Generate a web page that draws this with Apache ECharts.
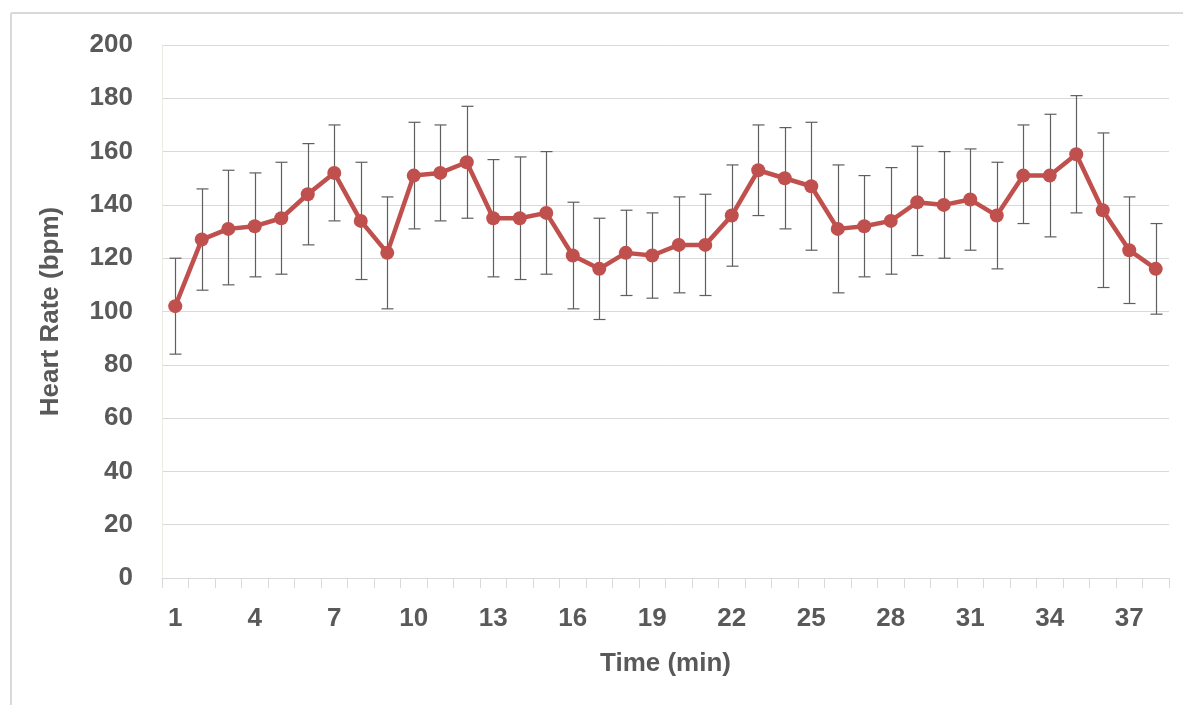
<!DOCTYPE html>
<html>
<head>
<meta charset="utf-8">
<script src="https://cdn.jsdelivr.net/npm/echarts@6/dist/echarts.min.js"></script>
<style>
html,body{margin:0;padding:0;background:#fff;}
#chart{width:1183px;height:705px;}
</style>
</head>
<body>
<div id="chart"></div>
<script>
var minutes = ['1','2','3','4','5','6','7','8','9','10','11','12','13','14','15','16','17','18','19','20','21','22','23','24','25','26','27','28','29','30','31','32','33','34','35','36','37','38'];
var heartRate = [102,127,131,132,135,144,152,134,122,151,152,156,135,135,137,121,116,122,121,125,125,136,153,150,147,131,132,134,141,140,142,136,151,151,159,138,123,116];
var errUpper = [120,146,153,152,156,163,170,156,143,171,170,177,157,158,160,141,135,138,137,143,144,155,170,169,171,155,151,154,162,160,161,156,170,174,181,167,143,133];
var errLower = [84,108,110,113,114,125,134,112,101,131,134,135,113,112,114,101,97,106,105,107,106,117,136,131,123,107,113,114,121,120,123,116,133,128,137,109,103,99];
var yTicks = [0,20,40,60,80,100,120,140,160,180,200];

var textColor = '#595959';
var lineColor = '#C0504D';
var gridColor = '#d9d9d9';
var font = '"Liberation Sans", Arial, sans-serif';

var errData = minutes.map(function (m, i) { return [i, errLower[i], errUpper[i]]; });

var chart = echarts.init(document.getElementById('chart'), null, {renderer: 'canvas'});
chart.setOption({
  animation: false,
  backgroundColor: '#ffffff',
  graphic: [
    {type: 'line', shape: {x1: 11, y1: 13, x2: 1183, y2: 13}, style: {stroke: '#d9d9d9', lineWidth: 2}, silent: true},
    {type: 'line', shape: {x1: 11, y1: 13, x2: 11, y2: 705}, style: {stroke: '#d9d9d9', lineWidth: 2}, silent: true}
  ],
  grid: {left: 162, right: 14, top: 45, bottom: 127, containLabel: false},
  xAxis: {
    type: 'category',
    data: minutes,
    boundaryGap: true,
    name: 'Time (min)',
    nameLocation: 'middle',
    nameGap: 73,
    nameTextStyle: {color: textColor, fontSize: 26, fontWeight: 'bold', fontFamily: font},
    axisLine: {show: true, lineStyle: {color: gridColor, width: 1}},
    axisTick: {show: true, interval: 0, length: 10, alignWithLabel: false, lineStyle: {color: gridColor}},
    axisLabel: {interval: 2, margin: 28, color: textColor, fontSize: 26, fontWeight: 'bold', fontFamily: font},
    splitLine: {show: false}
  },
  yAxis: {
    type: 'value',
    min: 0,
    max: 200,
    interval: 20,
    name: 'Heart Rate (bpm)',
    nameLocation: 'middle',
    nameGap: 98,
    nameRotate: 90,
    nameTextStyle: {color: textColor, fontSize: 26, fontWeight: 'bold', fontFamily: font},
    axisLine: {show: true, lineStyle: {color: '#ebebe4', width: 1}},
    axisTick: {show: false},
    axisLabel: {
      margin: 29, color: textColor, fontSize: 26, fontWeight: 'bold', fontFamily: font,
      formatter: function (v) { return yTicks.indexOf(v) >= 0 ? String(v) : ''; }
    },
    splitLine: {show: true, lineStyle: {color: gridColor, width: 1}}
  },
  series: [
    {
      type: 'custom',
      name: 'error',
      z: 1,
      data: errData,
      renderItem: function (params, api) {
        var x = api.value(0);
        var lo = api.coord([x, api.value(1)]);
        var hi = api.coord([x, api.value(2)]);
        var cx = Math.round(lo[0]) + 0.5;
        var hw = 6;
        var st = {stroke: '#5f5f5f', lineWidth: 1.2, fill: null};
        return {
          type: 'group',
          children: [
            {type: 'line', shape: {x1: cx, y1: hi[1], x2: cx, y2: lo[1]}, style: st},
            {type: 'line', shape: {x1: cx - hw, y1: hi[1], x2: cx + hw, y2: hi[1]}, style: st},
            {type: 'line', shape: {x1: cx - hw, y1: lo[1], x2: cx + hw, y2: lo[1]}, style: st}
          ]
        };
      }
    },
    {
      type: 'line',
      name: 'Heart Rate',
      z: 3,
      data: heartRate,
      symbol: 'circle',
      symbolSize: 14,
      lineStyle: {color: lineColor, width: 4.5},
      itemStyle: {color: lineColor, borderWidth: 0},
      emphasis: {disabled: true}
    }
  ]
});
</script>
</body>
</html>
